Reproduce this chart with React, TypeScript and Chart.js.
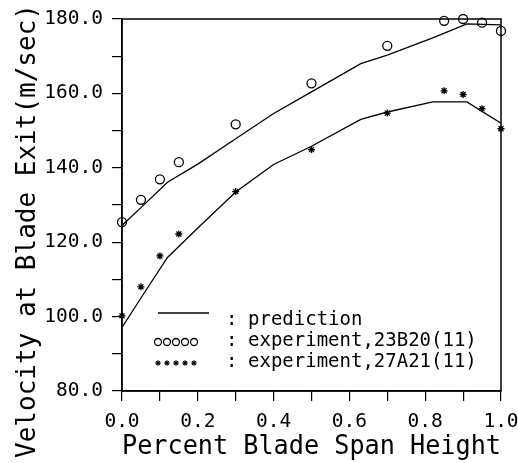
import { useEffect, useRef } from 'react';
import { Chart, registerables } from 'chart.js';
Chart.register(...registerables);

// ---- data ----
const predictionX = [0, 0.05, 0.12, 0.2, 0.3, 0.4, 0.5, 0.63, 0.7, 0.82, 0.91, 1.0];
const predictionUpper = [124.5, 129.3, 136.1, 141.0, 147.8, 154.6, 160.4, 168.0, 170.3, 174.9, 178.7, 178.4];
const predictionLower = [97.1, 105.0, 115.9, 123.8, 133.5, 140.9, 145.8, 153.0, 155.0, 157.7, 157.7, 152.0];
const experimentX = [0, 0.05, 0.1, 0.15, 0.3, 0.5, 0.7, 0.85, 0.9, 0.95, 1.0];
const experiment23B20 = [125.4, 131.4, 136.9, 141.5, 151.7, 162.7, 172.8, 179.5, 180.0, 179.0, 176.8];
const experiment27A21 = [100.2, 108.0, 116.3, 122.2, 133.6, 144.9, 154.7, 160.7, 159.7, 155.9, 150.5];

const xTitle = 'Percent Blade Span Height';
const yTitle = 'Velocity at Blade Exit(m/sec)';
const legendLabels = ['prediction', 'experiment,23B20(11)', 'experiment,27A21(11)'];
const xRange = [0, 1];
const yRange = [80, 180];
const xStep = 0.1;
const yStep = 10;

const MONO = "'DejaVu Sans Mono', monospace";

const pts = (xs: number[], ys: number[]) => xs.map((x, i) => ({ x, y: ys[i] }));

function drawStar(ctx: CanvasRenderingContext2D, x: number, y: number, r: number) {
  ctx.beginPath();
  ctx.moveTo(x - r, y); ctx.lineTo(x + r, y);
  ctx.moveTo(x, y - r); ctx.lineTo(x, y + r);
  const d = r * 0.707;
  ctx.moveTo(x - d, y - d); ctx.lineTo(x + d, y + d);
  ctx.moveTo(x - d, y + d); ctx.lineTo(x + d, y - d);
  ctx.stroke();
}

const decorPlugin = {
  id: 'decor',
  afterDraw(chart: any) {
    const { ctx, chartArea } = chart;
    const { left, top, right, bottom } = chartArea;
    ctx.save();
    // frame
    ctx.strokeStyle = '#000';
    ctx.lineWidth = 1.5;
    ctx.strokeRect(left, top, right - left, bottom - top);

    // y title
    ctx.fillStyle = '#000';
    ctx.font = `26px ${MONO}`;
    ctx.textAlign = 'center';
    ctx.textBaseline = 'middle';
    ctx.save();
    ctx.translate(28, 231);
    ctx.rotate(-Math.PI / 2);
    ctx.fillText(yTitle, 0, 0);
    ctx.restore();

    // legend
    ctx.font = `19px ${MONO}`;
    ctx.textAlign = 'left';
    ctx.textBaseline = 'alphabetic';
    const textX = left + 126;
    const colonX = left + 104;
    const rows = [bottom - 66, bottom - 45, bottom - 24];
    ctx.lineWidth = 1.3;
    // row 0: line
    ctx.beginPath();
    ctx.moveTo(left + 36, rows[0] - 12);
    ctx.lineTo(left + 87, rows[0] - 12);
    ctx.stroke();
    // row 1: circles
    for (let i = 0; i < 5; i++) {
      ctx.beginPath();
      ctx.arc(left + 36 + i * 9, rows[1] - 4, 3.5, 0, Math.PI * 2);
      ctx.stroke();
    }
    // row 2: stars
    ctx.lineWidth = 1.1;
    for (let i = 0; i < 5; i++) {
      drawStar(ctx, left + 36 + i * 9, rows[2] - 4, 2.8);
    }
    rows.forEach((y, i) => {
      ctx.fillText(':', colonX, y);
      ctx.fillText(legendLabels[i], textX, y);
    });
    ctx.restore();
  },
};

export default function App() {
  const ref = useRef<HTMLCanvasElement>(null);
  useEffect(() => {
    if (!ref.current) return;
    Chart.defaults.color = '#000';
    const chart = new Chart(ref.current, {
      type: 'scatter',
      data: {
        datasets: [
          {
            label: legendLabels[0],
            data: pts(predictionX, predictionUpper),
            showLine: true,
            borderColor: '#000',
            borderWidth: 1.3,
            pointRadius: 0,
            tension: 0,
          },
          {
            label: legendLabels[0],
            data: pts(predictionX, predictionLower),
            showLine: true,
            borderColor: '#000',
            borderWidth: 1.3,
            pointRadius: 0,
            tension: 0,
          },
          {
            label: legendLabels[1],
            data: pts(experimentX, experiment23B20),
            showLine: false,
            pointStyle: 'circle',
            pointRadius: 4.5,
            borderColor: '#000',
            backgroundColor: 'rgba(0,0,0,0)',
            pointBorderWidth: 1.3,
            clip: false,
          } as any,
          {
            label: legendLabels[2],
            data: pts(experimentX, experiment27A21),
            showLine: false,
            pointStyle: 'star',
            pointRadius: 3.5,
            borderColor: '#000',
            backgroundColor: '#000',
            pointBorderWidth: 1.3,
            clip: false,
          } as any,
        ],
      },
      options: {
        responsive: false,
        animation: false,
        events: [],
        layout: { padding: { top: 19, right: 17, left: 0, bottom: 0 } },
        plugins: { legend: { display: false }, tooltip: { enabled: false } },
        scales: {
          x: {
            type: 'linear',
            min: xRange[0],
            max: xRange[1],
            afterFit: (s: any) => { s.height = 72; s.paddingLeft = 0; s.paddingRight = 0; },
            border: { display: true, color: '#000', width: 1.5 },
            grid: { drawOnChartArea: false, drawTicks: true, tickLength: 10, color: '#000', lineWidth: 1.2 },
            ticks: {
              stepSize: xStep,
              padding: 9,
              font: { family: MONO, size: 19.5 },
              color: '#000',
              maxRotation: 0,
              autoSkip: false,
              callback: (v: any) => (Math.round(Number(v) * 10) % 2 === 0 ? Number(v).toFixed(1) : ''),
            },
            title: {
              display: true,
              text: xTitle,
              font: { family: MONO, size: 26 },
              color: '#000',
              padding: { top: 0, bottom: 0 },
            },
          },
          y: {
            type: 'linear',
            min: yRange[0],
            max: yRange[1],
            afterFit: (s: any) => { s.width = 122; s.paddingTop = 0; s.paddingBottom = 0; },
            border: { display: true, color: '#000', width: 1.5 },
            grid: { drawOnChartArea: false, drawTicks: true, tickLength: 10, color: '#000', lineWidth: 1.2 },
            ticks: {
              stepSize: yStep,
              padding: 9,
              font: { family: MONO, size: 19.5 },
              color: '#000',
              autoSkip: false,
              callback: (v: any) => (Math.round(Number(v)) % 20 === 0 ? Number(v).toFixed(1) : ''),
            },
          },
        },
      },
      plugins: [decorPlugin],
    } as any);
    return () => chart.destroy();
  }, []);
  return (
    <div style={{ position: 'absolute', left: 0, top: 0, width: 518, height: 463, background: '#fff' }}>
      <canvas ref={ref} width={518} height={463} />
    </div>
  );
}
